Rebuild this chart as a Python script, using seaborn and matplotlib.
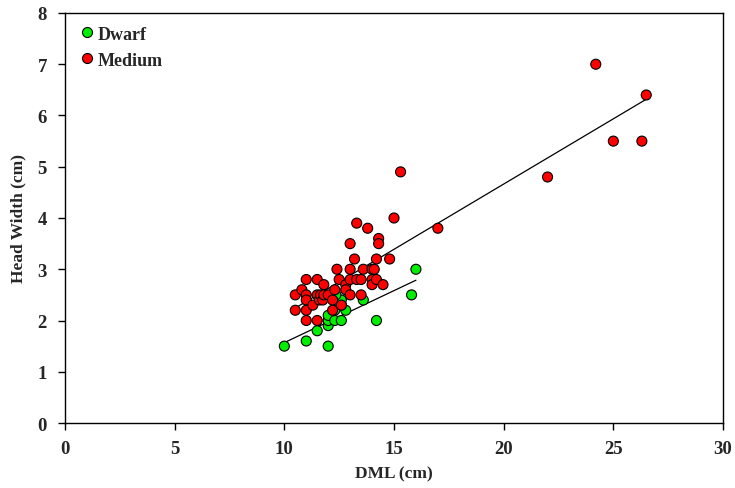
import numpy as np
import pandas as pd
import matplotlib
matplotlib.use("Agg")
import matplotlib.pyplot as plt
import seaborn as sns

dwarf_dml = [10.0, 11.0, 12.0, 11.5, 12.0, 12.0, 12.0, 12.3, 12.6, 14.2, 12.8, 12.3, 12.6, 12.6, 12.35, 13.6, 16.0, 15.8]
dwarf_hw = [1.5, 1.6, 1.5, 1.8, 1.9, 2.0, 2.1, 2.0, 2.0, 2.0, 2.2, 2.2, 2.3, 2.4, 2.5, 2.4, 3.0, 2.5]

medium_dml = [10.5, 10.5, 10.8, 11.0, 11.0, 11.0, 11.0, 11.0, 11.3, 11.5, 11.5, 11.5, 11.6, 11.65,
              11.75, 11.8, 11.8, 12.0, 12.2, 12.2, 12.3, 12.4, 12.5, 12.6, 12.8, 12.8, 13.0, 13.0,
              13.0, 13.0, 13.2, 13.3, 13.3, 13.5, 13.5, 13.6, 13.8, 14.0, 14.0, 14.0, 14.1, 14.2,
              14.2, 14.3, 14.3, 14.5, 14.8, 15.0, 15.3, 17.0, 22.0, 24.2, 25.0, 26.3, 26.5]
medium_hw = [2.5, 2.2, 2.6, 2.8, 2.5, 2.4, 2.2, 2.0, 2.3, 2.8, 2.5, 2.0, 2.4, 2.5,
             2.4, 2.5, 2.7, 2.5, 2.4, 2.2, 2.6, 3.0, 2.8, 2.3, 2.7, 2.6, 3.5, 3.0,
             2.8, 2.5, 3.2, 3.9, 2.8, 2.8, 2.5, 3.0, 3.8, 3.0, 2.8, 2.7, 3.0, 3.2,
             2.8, 3.6, 3.5, 2.7, 3.2, 4.0, 4.9, 3.8, 4.8, 7.0, 5.5, 5.5, 6.4]

groups = ["Dwarf", "Medium"]
colors = {"Dwarf": "#00ee00", "Medium": "#ff0000"}
x_ticks = [0, 5, 10, 15, 20, 25, 30]
y_ticks = [0, 1, 2, 3, 4, 5, 6, 7, 8]

df = pd.DataFrame({
    "DML": dwarf_dml + medium_dml,
    "HW": dwarf_hw + medium_hw,
    "Group": ["Dwarf"] * len(dwarf_dml) + ["Medium"] * len(medium_dml),
})

sns.set_style("white")
plt.rcParams["font.family"] = ["Liberation Serif", "DejaVu Serif"]
plt.rcParams["font.weight"] = "bold"

fig = plt.figure(figsize=(7.35, 4.89), dpi=100)
ax = fig.add_axes([0.0884, 0.1329, 0.8953, 0.8385])

for g in groups:
    sub = df[df["Group"] == g]
    sns.regplot(data=sub, x="DML", y="HW", scatter=False, ci=None, truncate=True,
                color="black", line_kws={"linewidth": 0.9}, ax=ax)

sns.scatterplot(data=df, x="DML", y="HW", hue="Group", hue_order=groups, palette=colors,
                s=52, edgecolor="black", linewidth=0.8, ax=ax, zorder=3)

ax.set_xlim(0, 30)
ax.set_ylim(0, 8)
ax.set_xticks(x_ticks)
ax.set_yticks(y_ticks)
ax.set_xticklabels([str(t) for t in x_ticks], fontsize=13.5, fontweight="bold")
ax.set_yticklabels([str(t) for t in y_ticks], fontsize=13.5, fontweight="bold")
ax.tick_params(axis="both", direction="out", length=5, width=1, color="black",
               bottom=True, left=True, top=False, right=False)
ax.tick_params(axis="x", pad=7)
ax.tick_params(axis="y", pad=8)
for sp in ax.spines.values():
    sp.set_color("black")
    sp.set_linewidth(1)
ax.set_xlabel("DML (cm)", fontsize=12.5, fontweight="bold", labelpad=6)
ax.set_ylabel("Head Width (cm)", fontsize=12.5, fontweight="bold", labelpad=8)

handles, labels = ax.get_legend_handles_labels()
for h in handles:
    try:
        h.set_sizes([28])
    except Exception:
        pass
leg = ax.legend(handles, labels, loc="upper left", frameon=False,
                handlelength=1.0, handletextpad=0.1, borderaxespad=0.3, labelspacing=0.5,
                prop={"weight": "bold", "size": 13})

fig.savefig("out.png", dpi=100)
